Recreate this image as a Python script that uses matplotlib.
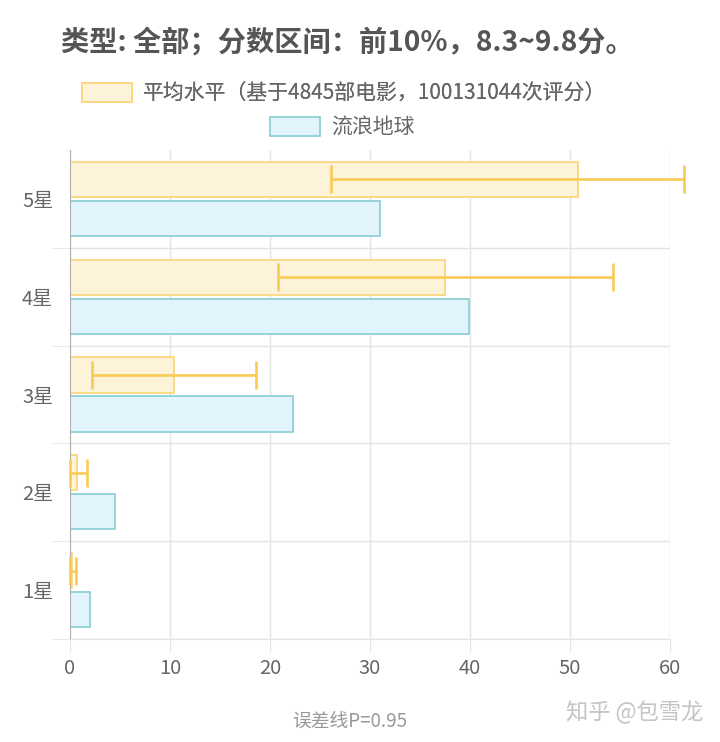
import matplotlib.pyplot as plt
import numpy as np

plt.rcParams['font.family'] = ['Noto Sans CJK SC', 'DejaVu Sans']

# 数据
categories = ['1星', '2星', '3星', '4星', '5星']
avg_values = [0.2, 0.75, 10.4, 37.5, 50.8]
avg_low = [0.0, 0.0, 2.2, 20.8, 26.1]
avg_high = [0.6, 1.7, 18.6, 54.3, 61.4]
film_values = [2.0, 4.5, 22.3, 39.9, 31.0]

avg_label = '平均水平（基于4845部电影，100131044次评分）'
film_label = '流浪地球'

yellow_fill = '#fdf3d9'
yellow_edge = '#fcd77f'
yellow_err = '#f9cb55'
blue_fill = '#e1f4fc'
blue_edge = '#8fd0d8'
text_gray = '#666666'

fig = plt.figure(figsize=(7.2, 7.42), dpi=100)
ax = fig.add_axes([0.0972, 0.1388, 0.8334, 0.659])

y = np.arange(len(categories))
h = 0.36
avg = np.array(avg_values)
err = [avg - np.array(avg_low), np.array(avg_high) - avg]

b1 = ax.barh(y + 0.2, avg_values, height=h, color=yellow_fill,
             edgecolor=yellow_edge, linewidth=1.3, label=avg_label, zorder=2)
b2 = ax.barh(y - 0.2, film_values, height=h, color=blue_fill,
             edgecolor=blue_edge, linewidth=1.3, label=film_label, zorder=2)
eb = ax.errorbar(avg_values, y + 0.2, xerr=err, fmt='none', ecolor=yellow_err,
                 elinewidth=1.9, capsize=10, capthick=1.9, zorder=3)
for art in eb.lines[1] + eb.lines[2]:
    art.set_clip_on(False)

ax.set_xlim(0, 60)
ax.set_ylim(-0.5, 4.5)
ax.set_xticks(range(0, 61, 10))
ax.set_yticks(y)
ax.set_yticklabels(categories)

# 网格线
ax.set_yticks(np.arange(-0.5, 4.0, 1.0), minor=True)
ax.grid(axis='x', color='#e4e4e4', linewidth=1, zorder=0)
ax.grid(axis='y', which='minor', color='#e4e4e4', linewidth=1, zorder=0)
ax.tick_params(axis='y', which='major', length=0, pad=12, labelsize=14.5, labelcolor=text_gray)
ax.tick_params(axis='y', which='minor', length=13, color='#e4e4e4')
ax.tick_params(axis='x', length=9, color='#e4e4e4', labelsize=14.5, labelcolor=text_gray, pad=5)

for s in ['top', 'right']:
    ax.spines[s].set_visible(False)
ax.spines['left'].set_color('#b0b0b0')
ax.spines['bottom'].set_color('#e4e4e4')

fig.text(0.085, 0.943, '类型: 全部；分数区间：前10%，8.3~9.8分。', fontsize=20.3,
         fontweight='bold', color='#555555', va='center', ha='left')

leg1 = fig.legend([b1], [avg_label], loc='center', bbox_to_anchor=(0.478, 0.874),
                  frameon=False, fontsize=15, handlelength=2.4, handleheight=1.0,
                  handletextpad=0.55, labelcolor=text_gray)
fig.add_artist(leg1)
fig.legend([b2], [film_label], loc='center', bbox_to_anchor=(0.475, 0.828),
           frameon=False, fontsize=15, handlelength=2.4, handleheight=1.0,
           handletextpad=0.55, labelcolor=text_gray)

fig.text(0.486, 0.028, '误差线P=0.95', fontsize=13.5, color='#999999', ha='center', va='center')
fig.text(0.882, 0.040, '知乎 @包雪龙', fontsize=16, color='#c4c4c4', ha='center', va='center')

plt.savefig('out.png', dpi=100)
